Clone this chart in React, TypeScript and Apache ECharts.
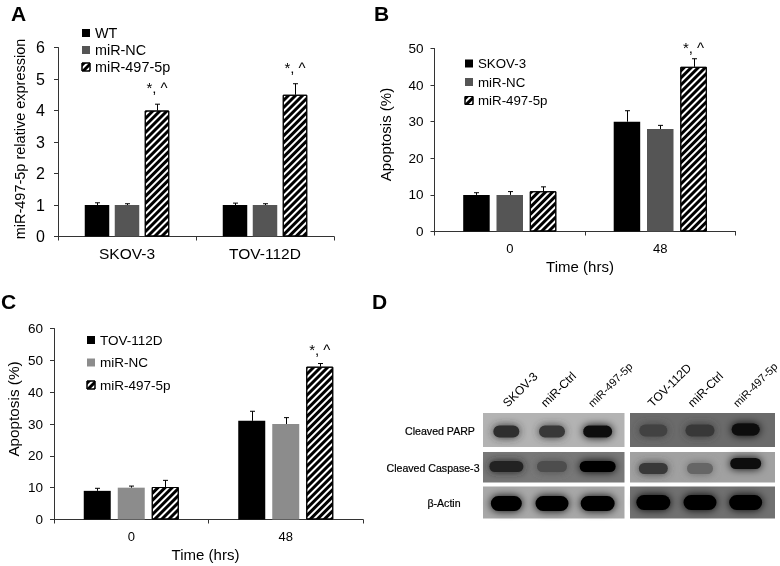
import React, { useEffect, useRef } from "react";
import * as echarts from "echarts";

// ---- data ----
const cellLines = ["SKOV-3", "TOV-112D"];
const timePoints = ["0", "48"];

const aLegend = ["WT", "miR-NC", "miR-497-5p"];
const aWT = [1, 1];
const aNC = [1, 1];
const aMiR = [4, 4.5];
const aWTErr = [0.07, 0.06];
const aNCErr = [0.04, 0.04];
const aMiRErr = [0.2, 0.35];

const bLegend = ["SKOV-3", "miR-NC", "miR-497-5p"];
const bCtl = [10, 30];
const bNC = [10, 28];
const bMiR = [11, 45];
const bCtlErr = [0.6, 3];
const bNCErr = [0.9, 1];
const bMiRErr = [1.2, 2.2];

const cLegend = ["TOV-112D", "miR-NC", "miR-497-5p"];
const cCtl = [9, 31];
const cNC = [10, 30];
const cMiR = [10.2, 48];
const cCtlErr = [0.8, 3];
const cNCErr = [0.5, 2];
const cMiRErr = [2.1, 1];

const sigMark = "*, ^";
const laneLabels = ["SKOV-3", "miR-Ctrl", "miR-497-5p", "TOV-112D", "miR-Ctrl", "miR-497-5p"];
const blotRows = ["Cleaved PARP", "Cleaved Caspase-3", "β-Actin"];
const parpBands = [0.82, 0.78, 0.94, 0.74, 0.78, 0.96];
const caspaseBands = [0.86, 0.7, 0.98, 0.78, 0.6, 0.94];
const actinBands = [0.98, 0.98, 0.98, 1, 1, 1];
const blotBackground = [
  [0.3, 0.58],
  [0.53, 0.37],
  [0.34, 0.56],
];

// ---- layout and style ----
const INK = "#000000";
const FONT = "'Liberation Sans', Arial, sans-serif";
const hatch = {
  symbol: "rect",
  dashArrayX: [1, 0],
  dashArrayY: [3, 2],
  rotation: -Math.PI / 4,
  color: "#000000",
  backgroundColor: "#ffffff",
};

const gray = (d: number) => {
  const v = Math.round(255 * (1 - d)).toString(16).padStart(2, "0");
  return `#${v}${v}${v}`;
};

function barPanel(o: any) {
  const idx = o.index;
  const seriesNames = o.legend;
  const vals = o.values;
  const errs = o.errors;
  const step = o.barWidth + o.gap;
  const series: any[] = vals.map((v: number[], i: number) => ({
    type: "bar",
    name: seriesNames[i],
    xAxisIndex: idx,
    yAxisIndex: idx,
    data: v,
    barWidth: o.barWidth,
    barGap: `${(o.gap / o.barWidth) * 100}%`,
    itemStyle:
      i === 2
        ? { color: "#ffffff", borderColor: "#000000", borderWidth: 1, decal: hatch }
        : { color: o.colors[i] },
  }));
  vals.forEach((v: number[], i: number) => {
    series.push({
      type: "custom",
      xAxisIndex: idx,
      yAxisIndex: idx,
      z: 5,
      clip: false,
      data: v.map((val: number, c: number) => [c, val, errs[i][c]]),
      renderItem: (_p: any, api: any) => {
        const c = api.value(0);
        const base = api.coord([c, api.value(1)]);
        const top = api.coord([c, api.value(1) + api.value(2)]);
        const x = Math.round(base[0] + (i - 1) * step) + 0.5;
        const line = { stroke: "#000000", lineWidth: 1 };
        return {
          type: "group",
          children: [
            { type: "line", shape: { x1: x, y1: base[1], x2: x, y2: top[1] }, style: line },
            { type: "line", shape: { x1: x - 2.5, y1: top[1], x2: x + 2.5, y2: top[1] }, style: line },
          ],
        };
      },
    });
  });
  series.push({
    type: "custom",
    xAxisIndex: idx,
    yAxisIndex: idx,
    z: 6,
    clip: false,
    data: vals[2]
      .map((val: number, c: number) => [c, val + errs[2][c]])
      .filter((d: number[]) => o.sig.includes(d[0])),
    renderItem: (_p: any, api: any) => {
      const top = api.coord([api.value(0), api.value(1)]);
      return {
        type: "text",
        x: top[0] + step,
        y: top[1] - o.sigLift,
        style: {
          text: sigMark,
          fill: INK,
          font: `15px ${FONT}`,
          align: "center",
          verticalAlign: "bottom",
        },
      };
    },
  });

  const grid = {
    left: o.left,
    top: o.top,
    width: o.width,
    height: o.height,
    outerBoundsMode: "none",
  };
  const xAxis = {
    type: "category",
    gridIndex: idx,
    data: o.categories,
    name: o.xName,
    nameLocation: "middle",
    nameGap: o.xNameGap,
    nameMoveOverlap: false,
    nameTextStyle: { color: INK, fontFamily: FONT, fontSize: 15, padding: [0, o.xNameShift || 0, 0, 0] },
    axisLine: { lineStyle: { color: "#333333", width: 1 } },
    axisTick: { show: true, length: 4, lineStyle: { color: "#333333" } },
    axisLabel: { color: INK, fontFamily: FONT, fontSize: o.labelSize, margin: o.xMargin },
  };
  const yAxis = {
    type: "value",
    gridIndex: idx,
    min: 0,
    max: o.max,
    interval: o.interval,
    name: o.yName,
    nameLocation: "middle",
    nameGap: o.yNameGap,
    nameMoveOverlap: false,
    nameTextStyle: { color: INK, fontFamily: FONT, fontSize: o.yNameSize, padding: [0, 0, 0, o.yNameShift || 0] },
    axisLine: { show: true, lineStyle: { color: "#333333", width: 1 } },
    axisTick: { show: true, length: 4, lineStyle: { color: "#333333" } },
    splitLine: { show: false },
    axisLabel: { color: INK, fontFamily: FONT, fontSize: o.tickSize, margin: o.yMargin },
  };
  const legend = {
    orient: "vertical",
    left: o.legendLeft,
    top: o.legendTop,
    padding: 0,
    selectedMode: false,
    itemWidth: 8,
    itemHeight: 8,
    itemGap: o.legendGap,
    textStyle: { color: INK, fontFamily: FONT, fontSize: o.legendSize },
    data: seriesNames.map((n: string, i: number) => ({
      name: n,
      icon: "rect",
      itemStyle:
        i === 2
          ? { color: "#ffffff", borderColor: "#000000", borderWidth: 1, decal: hatch }
          : { color: o.colors[i], borderWidth: 0, decal: "none" },
    })),
  };
  return { grid, xAxis, yAxis, series, legend };
}

function blotPanel(index: number) {
  const PANEL_X = [[0, 141.5], [147, 292]];
  const PANEL_Y = [[0, 34], [39, 69.5], [73.5, 105.5]];
  const LANE_SHIFT = [-1, -4, -7, 0, -2, -5];
  const ROW_SHIFT = [
    [1, 1, 1, 0, 0, -1],
    [1, 1, 1, 3, 3, -2],
    [3, 3, 3, 2, 2, 2],
  ];
  const LANE_W = [
    [28, 28, 31, 30, 31, 30],
    [36, 32, 38, 31, 28, 33],
    [33, 35, 36, 36, 35, 35],
  ];
  const ROW_H = [15, 14, 18];
  const LABEL_X_START = [505, 543, 590, 650, 690, 735];
  const ROW_LABEL_CX = [440, 433, 444];

  const bands: number[][] = [];
  [parpBands, caspaseBands, actinBands].forEach((r, row) =>
    r.forEach((d, lane) => bands.push([lane, row, d]))
  );
  const panels: number[][] = [];
  blotBackground.forEach((r, row) => r.forEach((d, side) => panels.push([side, row, d])));

  const xAxis = { type: "category", gridIndex: index, data: laneLabels, show: false };
  const yAxis = { type: "category", gridIndex: index, data: blotRows, show: false, inverse: true };
  const series = [
    {
      type: "custom",
      xAxisIndex: index,
      yAxisIndex: index,
      clip: false,
      z: 1,
      data: panels,
      renderItem: (p: any, api: any) => {
        const side = api.value(0);
        const row = api.value(1);
        const [x0, x1] = PANEL_X[side];
        const [y0, y1] = PANEL_Y[row];
        return {
          type: "rect",
          shape: { x: p.coordSys.x + x0, y: p.coordSys.y + y0, width: x1 - x0, height: y1 - y0 },
          style: { fill: gray(api.value(2)) },
        };
      },
    },
    {
      type: "custom",
      xAxisIndex: index,
      yAxisIndex: index,
      clip: false,
      z: 2,
      data: bands,
      renderItem: (_p: any, api: any) => {
        const lane = api.value(0);
        const row = api.value(1);
        const c = api.coord([lane, row]);
        const w = LANE_W[row][lane] - 2;
        const h = ROW_H[row] - 3;
        const fill = gray(api.value(2));
        return {
          type: "rect",
          shape: {
            x: c[0] + LANE_SHIFT[lane] - w / 2,
            y: c[1] + ROW_SHIFT[row][lane] - h / 2,
            width: w,
            height: h,
            r: h / 2,
          },
          style: { fill, shadowBlur: 8, shadowColor: fill },
        };
      },
    },
    {
      type: "custom",
      xAxisIndex: index,
      yAxisIndex: index,
      clip: false,
      z: 3,
      data: laneLabels.map((_l, i) => [i, 0]),
      renderItem: (_p: any, api: any) => {
        const i = api.value(0);
        return {
          type: "text",
          x: LABEL_X_START[i],
          y: 405,
          rotation: Math.PI / 4,
          style: {
            text: laneLabels[i],
            fill: INK,
            font: `${i === 2 || i === 5 ? 11 : 12}px ${FONT}`,
            align: "left",
            verticalAlign: "middle",
          },
        };
      },
    },
    {
      type: "custom",
      xAxisIndex: index,
      yAxisIndex: index,
      clip: false,
      z: 3,
      data: blotRows.map((_l, i) => [0, i]),
      renderItem: (_p: any, api: any) => {
        const row = api.value(1);
        const c = api.coord([0, row]);
        return {
          type: "text",
          x: ROW_LABEL_CX[row],
          y: c[1] + (row === 0 ? 0 : 2),
          style: {
            text: blotRows[row],
            fill: INK,
            stroke: INK,
            lineWidth: 0.2,
            font: `10.6px ${FONT}`,
            align: "center",
            verticalAlign: "middle",
          },
        };
      },
    },
  ];
  return {
    grid: { left: 483, top: 413, width: 292, height: 105, outerBoundsMode: "none" },
    xAxis,
    yAxis,
    series,
  };
}

const letter = (text: string, left: number, top: number) => ({
  type: "text",
  left,
  top,
  style: { text, fill: "#000000", font: `bold 21px ${FONT}` },
});

export default function App() {
  const ref = useRef<HTMLDivElement>(null);
  useEffect(() => {
    if (!ref.current) return;
    const chart = echarts.init(ref.current, undefined, { renderer: "svg" });
    const a = barPanel({
      index: 0,
      left: 58,
      top: 47.5,
      width: 276,
      height: 189,
      categories: cellLines,
      legend: aLegend,
      values: [aWT, aNC, aMiR],
      errors: [aWTErr, aNCErr, aMiRErr],
      sig: [0, 1],
      sigLift: 9,
      colors: ["#000000", "#555555"],
      barWidth: 24.5,
      gap: 5.5,
      max: 6,
      interval: 1,
      yName: "miR-497-5p relative expression",
      yNameGap: 31,
      yNameSize: 14.5,
      yNameShift: 6,
      yMargin: 13,
      tickSize: 16,
      labelSize: 15.5,
      xMargin: 9,
      legendLeft: 81.5,
      legendTop: 26,
      legendGap: 3,
      legendSize: 14.4,
    });
    const b = barPanel({
      index: 1,
      left: 434.5,
      top: 48.5,
      width: 301,
      height: 183,
      categories: timePoints,
      legend: bLegend,
      values: [bCtl, bNC, bMiR],
      errors: [bCtlErr, bNCErr, bMiRErr],
      sig: [1],
      sigLift: 4,
      colors: ["#000000", "#555555"],
      barWidth: 26.5,
      gap: 6.8,
      max: 50,
      interval: 10,
      xName: "Time (hrs)",
      xNameGap: 27,
      xNameShift: 10,
      yName: "Apoptosis (%)",
      yNameGap: 42,
      yNameSize: 15,
      yNameShift: 11,
      yMargin: 11,
      tickSize: 13.5,
      labelSize: 13,
      xMargin: 10,
      legendLeft: 464.5,
      legendTop: 57,
      legendGap: 5.5,
      legendSize: 13.3,
    });
    const c = barPanel({
      index: 2,
      left: 54,
      top: 328.5,
      width: 309,
      height: 191,
      categories: timePoints,
      legend: cLegend,
      values: [cCtl, cNC, cMiR],
      errors: [cCtlErr, cNCErr, cMiRErr],
      sig: [1],
      sigLift: 7,
      colors: ["#000000", "#8c8c8c"],
      barWidth: 27,
      gap: 7,
      max: 60,
      interval: 10,
      xName: "Time (hrs)",
      xNameGap: 27,
      xNameShift: 6,
      yName: "Apoptosis (%)",
      yNameGap: 33,
      yNameSize: 15.3,
      yNameShift: 30,
      yMargin: 11,
      tickSize: 13.5,
      labelSize: 13,
      xMargin: 10,
      legendLeft: 86.5,
      legendTop: 333,
      legendGap: 8.5,
      legendSize: 13.5,
    });
    const d = blotPanel(3);
    const panels: any[] = [a, b, c, d];
    chart.setOption({
      animation: false,
      backgroundColor: "#ffffff",
      grid: panels.map((p) => p.grid),
      xAxis: panels.map((p) => p.xAxis),
      yAxis: panels.map((p) => p.yAxis),
      legend: [a.legend, b.legend, c.legend],
      series: panels.flatMap((p) => p.series),
      graphic: [
        letter("A", 11, 3),
        letter("B", 374, 3),
        letter("C", 1, 291),
        letter("D", 372, 291),
      ],
    });
    return () => chart.dispose();
  }, []);
  return (
    <div
      ref={ref}
      style={{
        position: "absolute",
        left: 0,
        top: 0,
        width: 780,
        height: 566,
        filter: "blur(0.35px)",
      }}
    />
  );
}
